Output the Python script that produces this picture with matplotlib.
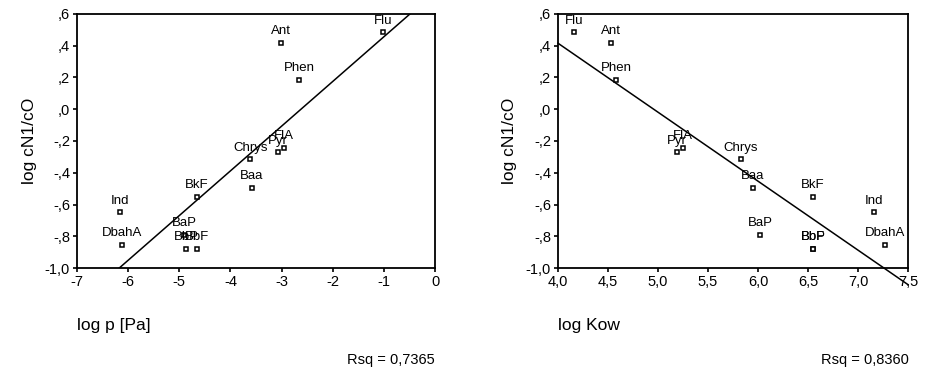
import numpy as np
import matplotlib
matplotlib.use("Agg")
import matplotlib.pyplot as plt

plt.rcParams['font.family'] = ['Liberation Sans Narrow', 'Liberation Sans', 'DejaVu Sans']

# PAH names, shared by both panels
names = ['Flu', 'Ant', 'Phen', 'Pyr', 'FlA', 'Chrys', 'Baa', 'BaP',
         'BkF', 'BbP', 'BbF', 'Ind', 'DbahA']
# log cN1/cO (y) for every compound
log_c = [0.485, 0.42, 0.184, -0.27, -0.244, -0.315, -0.496, -0.79,
         -0.55, -0.88, -0.88, -0.65, -0.855]
# left panel x: log p [Pa]
log_p = [-1.02, -3.01, -2.66, -3.08, -2.95, -3.61, -3.58, -4.9,
         -4.66, -4.87, -4.66, -6.16, -6.12]
# right panel x: log Kow
log_kow = [4.16, 4.53, 4.58, 5.19, 5.25, 5.83, 5.95, 6.02,
           6.55, 6.55, 6.55, 7.16, 7.27]

rsq_left = '0,7365'
rsq_right = '0,8360'

y_ticks = [0.6, 0.4, 0.2, 0.0, -0.2, -0.4, -0.6, -0.8, -1.0]
y_ticklabels = [',6', ',4', ',2', ',0', '-,2', '-,4', '-,6', '-,8', '-1,0']
xl_ticks = [-7, -6, -5, -4, -3, -2, -1, 0]
xl_ticklabels = ['-7', '-6', '-5', '-4', '-3', '-2', '-1', '0']
xr_ticks = [4.0, 4.5, 5.0, 5.5, 6.0, 6.5, 7.0, 7.5]
xr_ticklabels = ['4,0', '4,5', '5,0', '5,5', '6,0', '6,5', '7,0', '7,5']


def panel(ax, x, xticks, xticklabels, xlim, line_clip):
    x = np.array(x)
    y = np.array(log_c)
    ax.plot(x, y, 's', ms=3.2, mfc='white', mec='black', mew=1.1, zorder=3)
    for n, xi, yi in zip(names, x, y):
        ax.annotate(n, (xi, yi), xytext=(0, 4), textcoords='offset points',
                    ha='center', va='bottom', fontsize=9.5)
    k, b = np.polyfit(x, y, 1)
    xs = np.array(xlim)
    ax.plot(xs, k * xs + b, color='black', lw=1.1, clip_on=line_clip)
    ax.set_xlim(*xlim)
    ax.set_ylim(-1.0, 0.6)
    ax.set_yticks(y_ticks)
    ax.set_yticklabels(y_ticklabels, fontsize=10.5)
    ax.set_xticks(xticks)
    ax.set_xticklabels(xticklabels, fontsize=10.5)
    ax.tick_params(direction='out', length=3, width=1.2, pad=2)
    for s in ax.spines.values():
        s.set_linewidth(1.3)
    ax.set_ylabel('log cN1/cO', fontsize=12.5, labelpad=6)


fig = plt.figure(figsize=(9.27, 3.76), dpi=100)
ax1 = fig.add_axes([0.0831, 0.2872, 0.3862, 0.6756])
ax2 = fig.add_axes([0.6019, 0.2872, 0.3776, 0.6756])

panel(ax1, log_p, xl_ticks, xl_ticklabels, (-7, 0), True)
panel(ax2, log_kow, xr_ticks, xr_ticklabels, (4.0, 7.5), False)

fig.text(0.083, 0.133, 'log p [Pa]', fontsize=12.5, va='center')
fig.text(0.602, 0.133, 'log Kow', fontsize=12.5, va='center')
fig.text(0.469, 0.042, 'Rsq = ' + rsq_left, fontsize=10.5, ha='right', va='center')
fig.text(0.980, 0.042, 'Rsq = ' + rsq_right, fontsize=10.5, ha='right', va='center')

fig.savefig('out.png', dpi=100)
